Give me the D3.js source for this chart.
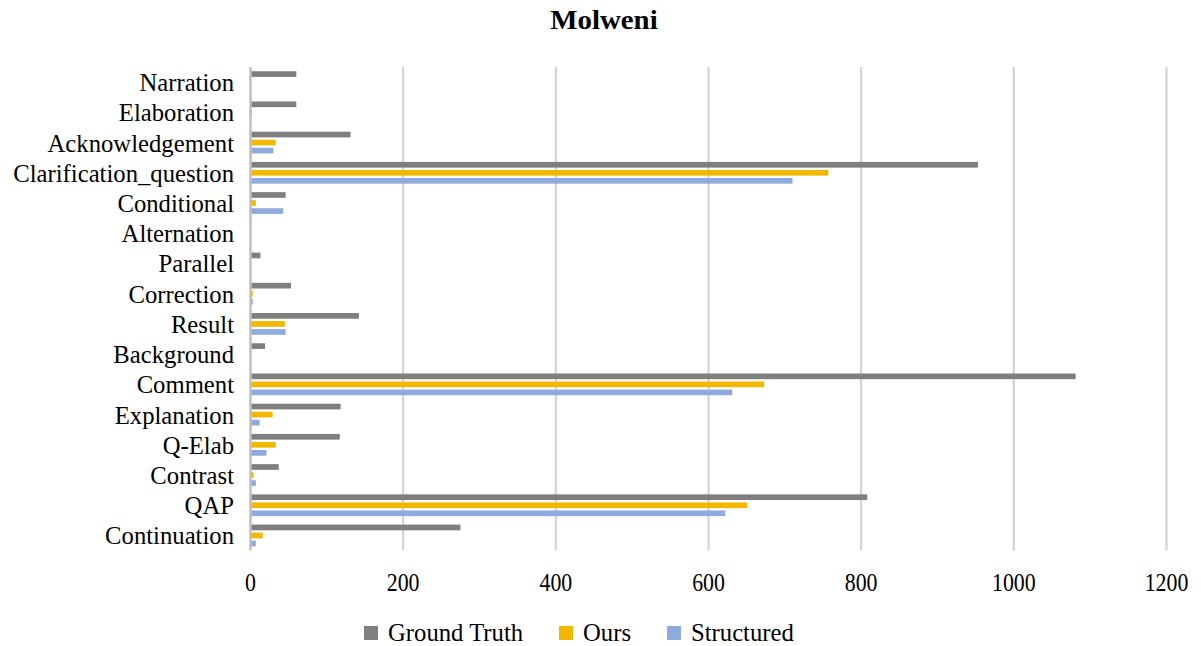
<!DOCTYPE html>
<html><head><meta charset="utf-8">
<script src="https://cdn.jsdelivr.net/npm/d3@7"></script>
<style>body{margin:0;background:#fff}</style>
</head><body>
<svg id="c" width="1201" height="646"></svg>
<script>
const categories = ["Narration","Elaboration","Acknowledgement","Clarification_question","Conditional","Alternation","Parallel","Correction","Result","Background","Comment","Explanation","Q-Elab","Contrast","QAP","Continuation"];
const seriesNames = ["Ground Truth","Ours","Structured"];
const groundTruth = [60,60,131,953,46,0,13,53,142,19,1081,118,117,37,808,275];
const ours =        [0,2,33,757,7,0,0,3,45,0,673,29,33,4,651,16];
const structured =  [0,0,30,710,43,0,0,3,46,0,631,12,21,7,622,7];
const xTicks = [0,200,400,600,800,1000,1200];
const colors = ["#7f7f7f","#f2b800","#8faadc"];

const values = [groundTruth, ours, structured];
const svg = d3.select("#c");
const font = "'Liberation Serif','Times New Roman',serif";

const x = d3.scaleLinear().domain([0,1200]).range([250.5,1166.5]);
const y0 = d3.scaleBand().domain(categories).range([67,550.6]).paddingInner(0.28).paddingOuter(0.14);
const y1 = d3.scaleBand().domain(seriesNames).range([0,y0.bandwidth()]).paddingInner(0.29);

function stxt(g, tx, ty, str, size, anchor, weight, sx){
  const gg = g.append("g").attr("transform",`translate(${tx},${ty}) scale(${sx},1)`);
  gg.append("text").attr("x",0).attr("y",0).attr("text-anchor",anchor)
    .attr("font-family",font).attr("font-size",size).attr("font-weight",weight||"normal")
    .attr("fill","#000").text(str);
  return gg;
}

// gridlines
svg.append("g").selectAll("line").data(xTicks.slice(1)).join("line")
  .attr("x1",d=>x(d)).attr("x2",d=>x(d)).attr("y1",67).attr("y2",550.6)
  .attr("stroke","#d4d4d4").attr("stroke-width",2.2);

// bars
const gb = svg.append("g");
categories.forEach((c,i)=>{
  seriesNames.forEach((s,j)=>{
    const v = values[j][i];
    if(v<=0) return;
    gb.append("rect").attr("x",x(0)).attr("y",y0(c)+y1(s))
      .attr("width",x(v)-x(0)).attr("height",y1.bandwidth()).attr("fill",colors[j]);
  });
});

// axis line
svg.append("line").attr("x1",x(0)).attr("x2",x(0)).attr("y1",67).attr("y2",550.6)
  .attr("stroke","#bfbfbf").attr("stroke-width",2.5);

// category labels
const gl = svg.append("g");
categories.forEach(c=>{
  stxt(gl, 234, y0(c)+y0.bandwidth()/2+9, c, 26, "end", "normal", 0.95);
});

// x tick labels
const gt = svg.append("g");
xTicks.forEach(t=>{
  stxt(gt, x(t), 591, String(t), 26, "middle", "normal", 0.84);
});

// title
stxt(svg, 604, 29, "Molweni", 28, "middle", "bold", 1.03);

// legend
const legendX = [364, 559, 667];
const lg = svg.append("g");
seriesNames.forEach((s,j)=>{
  lg.append("rect").attr("x",legendX[j]).attr("y",626).attr("width",14).attr("height",14).attr("fill",colors[j]);
  stxt(lg, legendX[j]+24, 641, s, 26, "start", "normal", 0.95);
});
</script>
</body></html>
